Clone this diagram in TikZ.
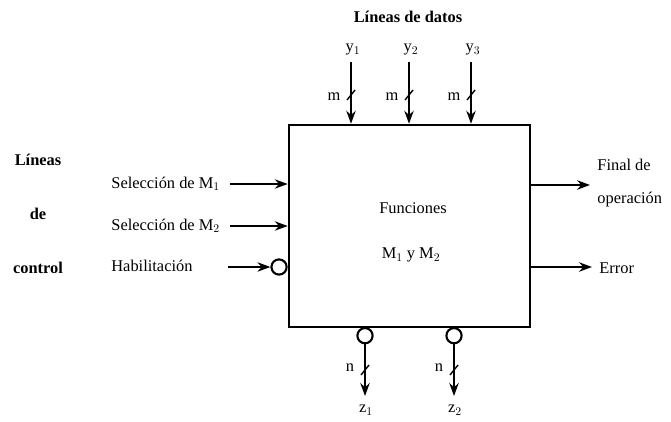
\documentclass[tikz,border=0pt]{standalone}
\usepackage{fontspec}
\setmainfont{Liberation Serif}
\usetikzlibrary{arrows.meta,positioning,calc}
\tikzset{
    sig/.style={line width=1.6pt, -{Stealth[length=11pt,width=8pt]}},
    bubble/.style={circle, draw, line width=1.8pt, inner sep=0pt, minimum size=13pt},
    lbl/.style={font=\fontsize{14}{16}\selectfont, inner sep=1pt},
    head/.style={font=\bfseries\fontsize{14}{16}\selectfont, inner sep=1pt},
}
% short slanted mark on a bus line
\newcommand{\busmark}[1]{\draw[line width=1.2pt] ($(#1)+(-4,5)$) -- ($(#1)+(4,-5)$);}
\begin{document}
\begin{tikzpicture}[x=0.03cm, y=-0.03cm]
    \useasboundingbox (0,0) rectangle (671,422);
    % main block
    \node[draw, line width=2.2pt, minimum width=7.23cm, minimum height=6.06cm] (box) at (409.5,226) {};
    \node[lbl] (fun) at (413,208) {Funciones};
    \node[lbl] (mm) at (411,255) {M$_1$ y M$_2$};
    % data lines
    \node[head] (datos) at (408,17) {Líneas de datos};
    \foreach \x/\i in {351/1, 409/2, 471/3} {
        \node[lbl] (y\i) at (\x+2,50) {y$_\i$};
        \draw[sig] (\x,62) -- (\x,0 |- box.north);
        \coordinate (bm\i) at (\x,95);
        \busmark{bm\i}
        \node[lbl] (m\i) at (\x-17,97) {m};
    }
    % control lines
    \node[head] (l1) at (38,160) {Líneas};
    \node[head] (l2) at (38,214) {de};
    \node[head] (l3) at (38,268) {control};
    \node[lbl, anchor=west] (sel1) at (110,184) {Selección de M$_1$};
    \node[lbl, anchor=west] (sel2) at (110,226) {Selección de M$_2$};
    \node[lbl, anchor=west] (hab) at (110,266) {Habilitación};
    \coordinate (s1) at (230,184);
    \coordinate (s2) at (230,226);
    \coordinate (h) at (228,267);
    \draw[sig] (s1) -- (s1 -| box.west);
    \draw[sig] (s2) -- (s2 -| box.west);
    \node[bubble, anchor=east] (hb) at (h -| box.west) {};
    \draw[sig] (h) -- (hb.west);
    % outputs
    \coordinate (o1) at (box.east |- 0,185);
    \coordinate (o2) at (box.east |- 0,267);
    \coordinate (e1) at (590,185);
    \coordinate (e2) at (592,267);
    \node[lbl, align=left, anchor=west] (fin) at (596,183) {Final de\\[12pt]operación};
    \node[lbl, anchor=west] (err) at (598,268) {Error};
    \draw[sig] (o1) -- (e1);
    \draw[sig] (o2) -- (e2);
    % bottom outputs
    \foreach \x/\i in {365/1, 454/2} {
        \node[bubble, anchor=north] (zb\i) at (\x,327) {};
        \node[lbl] (z\i) at (\x+1,410) {z$_\i$};
        \draw[sig] (zb\i.south) -- (\x,396);
        \coordinate (bn\i) at (\x,370);
        \busmark{bn\i}
        \node[lbl] (n\i) at (\x-15,368) {n};
    }
\end{tikzpicture}
\end{document}
